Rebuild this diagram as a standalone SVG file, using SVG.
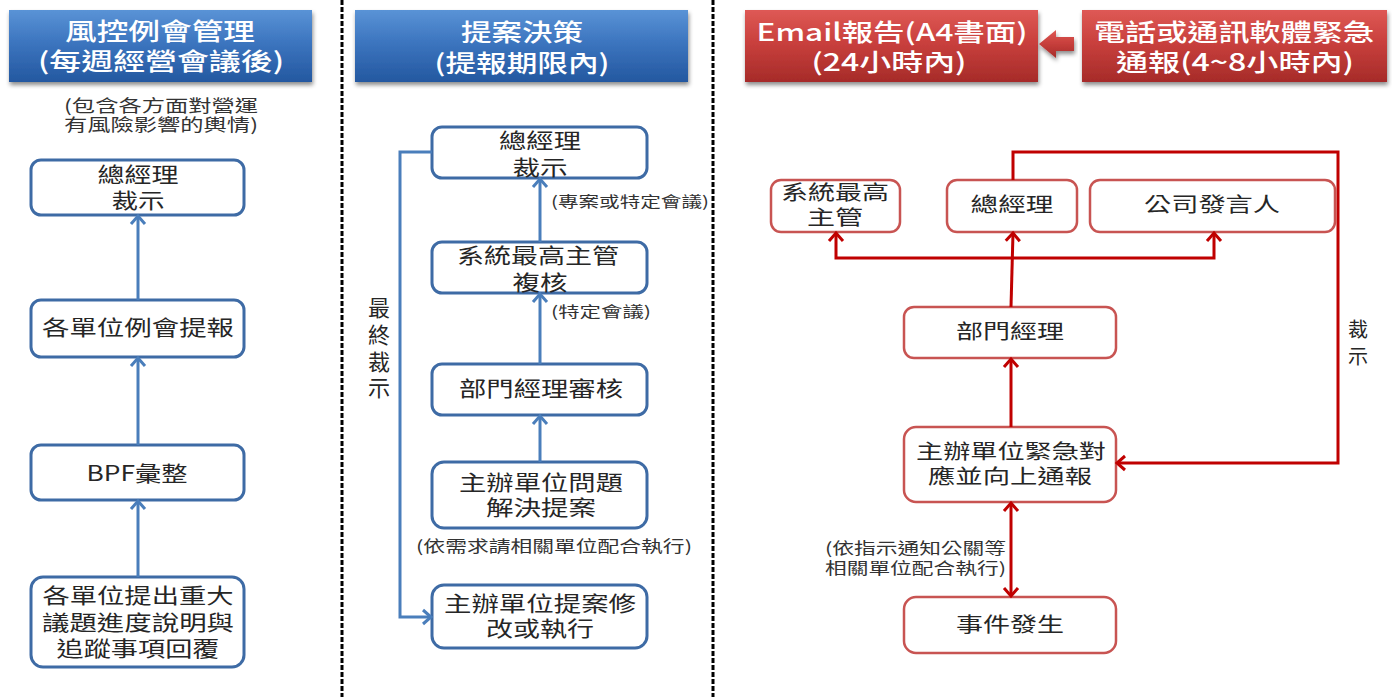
<svg xmlns="http://www.w3.org/2000/svg" width="1392" height="697" viewBox="0 0 1392 697">
<defs>
<linearGradient id="gBlue" x1="0" y1="0" x2="0" y2="1">
<stop offset="0" stop-color="#5A93D6"/>
<stop offset="0.45" stop-color="#3C75BF"/>
<stop offset="1" stop-color="#2458A0"/>
</linearGradient>
<linearGradient id="gRed" x1="0" y1="0" x2="0" y2="1">
<stop offset="0" stop-color="#DE5955"/>
<stop offset="0.45" stop-color="#C9403D"/>
<stop offset="1" stop-color="#A62B29"/>
</linearGradient>
<filter id="shadow" x="-10%" y="-20%" width="120%" height="150%">
<feDropShadow dx="1" dy="3" stdDeviation="2" flood-color="#000" flood-opacity="0.45"/>
</filter>
<marker id="arrB" viewBox="-10 -10 20 20" refX="0" refY="0" markerWidth="20" markerHeight="20" markerUnits="userSpaceOnUse" orient="auto-start-reverse">
<path d="M-8,-7 L0,0 L-8,7" fill="none" stroke="#4A7EBB" stroke-width="3"/>
</marker>
<marker id="arrR" viewBox="-10 -10 20 20" refX="0" refY="0" markerWidth="20" markerHeight="20" markerUnits="userSpaceOnUse" orient="auto-start-reverse">
<path d="M-8,-7 L0,0 L-8,7" fill="none" stroke="#C00000" stroke-width="3"/>
</marker>
</defs>
<style>
text{font-family:"Noto Sans CJK TC","Noto Sans CJK SC",sans-serif;}
.hd{fill:#fff;font-size:24px;font-weight:500;text-anchor:middle;}
.nb{fill:#fff;stroke:#3E6BA5;stroke-width:3;}
.nr{fill:#fff;stroke:#C85452;stroke-width:2.5;}
.t{fill:#262626;font-size:21px;text-anchor:middle;}
.tr{fill:#262626;font-size:20px;text-anchor:middle;}
.s{fill:#333;font-size:15px;}
.s16{fill:#333;font-size:16px;}
.cb{fill:none;stroke:#4A7EBB;stroke-width:3;}
.cr{fill:none;stroke:#C00000;stroke-width:3;}
.sep{stroke:#000;stroke-width:3;stroke-dasharray:5 2;}
</style>
<rect width="1392" height="697" fill="#fff"/>

<g id="separators">
<line class="sep" x1="342" y1="0" x2="342" y2="697"/>
<line class="sep" x1="713" y1="0" x2="713" y2="697"/>
</g>

<!-- Left column -->
<g id="hdr-left">
<rect x="9" y="10" width="303" height="72" fill="url(#gBlue)" filter="url(#shadow)"/>
<text class="hd"><tspan x="160" y="40" textLength="190" lengthAdjust="spacingAndGlyphs">風控例會管理</tspan><tspan x="161" y="70" textLength="246" lengthAdjust="spacingAndGlyphs">(每週經營會議後)</tspan></text>
</g>
<g id="note-left">
<text font-size="17" fill="#333" text-anchor="middle"><tspan x="161" y="112" textLength="194" lengthAdjust="spacingAndGlyphs">(包含各方面對營運</tspan><tspan x="161" y="131" textLength="194" lengthAdjust="spacingAndGlyphs">有風險影響的輿情)</tspan></text>
</g>
<g id="L1">
<rect class="nb" x="31" y="160" width="213" height="55" rx="10"/>
<text class="t"><tspan x="138" y="182" textLength="81" lengthAdjust="spacingAndGlyphs">總經理</tspan><tspan x="138" y="208" textLength="53" lengthAdjust="spacingAndGlyphs">裁示</tspan></text>
</g>
<g id="L2">
<rect class="nb" x="31" y="300" width="213" height="57" rx="10"/>
<text class="t" x="138" y="335" textLength="192" lengthAdjust="spacingAndGlyphs">各單位例會提報</text>
</g>
<g id="L3">
<rect class="nb" x="31" y="445" width="213" height="55" rx="10"/>
<text class="t" x="137" y="481" textLength="101" lengthAdjust="spacingAndGlyphs">BPF彙整</text>
</g>
<g id="L4">
<rect class="nb" x="31" y="577" width="213" height="90" rx="12"/>
<text class="t"><tspan x="138" y="603" textLength="191" lengthAdjust="spacingAndGlyphs">各單位提出重大</tspan><tspan x="138" y="630" textLength="192" lengthAdjust="spacingAndGlyphs">議題進度說明與</tspan><tspan x="138" y="656" textLength="163" lengthAdjust="spacingAndGlyphs">追蹤事項回覆</tspan></text>
</g>

<!-- Middle column -->
<g id="hdr-mid">
<rect x="355" y="10" width="333" height="72" fill="url(#gBlue)" filter="url(#shadow)"/>
<text class="hd"><tspan x="522" y="41" textLength="122" lengthAdjust="spacingAndGlyphs">提案決策</tspan><tspan x="522" y="72" textLength="175" lengthAdjust="spacingAndGlyphs">(提報期限內)</tspan></text>
</g>
<g id="M1">
<rect class="nb" x="432" y="127" width="215" height="51" rx="10"/>
<text class="t"><tspan x="540" y="148" textLength="82" lengthAdjust="spacingAndGlyphs">總經理</tspan><tspan x="540" y="175" textLength="55" lengthAdjust="spacingAndGlyphs">裁示</tspan></text>
</g>
<g id="M2">
<rect class="nb" x="432" y="242" width="215" height="51" rx="10"/>
<text class="t"><tspan x="538" y="263" textLength="162" lengthAdjust="spacingAndGlyphs">系統最高主管</tspan><tspan x="540" y="290" textLength="55" lengthAdjust="spacingAndGlyphs">複核</tspan></text>
</g>
<g id="M3">
<rect class="nb" x="432" y="364" width="215" height="51" rx="10"/>
<text class="t" x="541" y="396" textLength="164" lengthAdjust="spacingAndGlyphs">部門經理審核</text>
</g>
<g id="M4">
<rect class="nb" x="432" y="462" width="215" height="66" rx="12"/>
<text class="t"><tspan x="541" y="490" textLength="164" lengthAdjust="spacingAndGlyphs">主辦單位問題</tspan><tspan x="541" y="515" textLength="110" lengthAdjust="spacingAndGlyphs">解決提案</tspan></text>
</g>
<g id="M5">
<rect class="nb" x="432" y="585" width="215" height="63" rx="12"/>
<text class="t"><tspan x="540" y="611" textLength="192" lengthAdjust="spacingAndGlyphs">主辦單位提案修</tspan><tspan x="540" y="636" textLength="108" lengthAdjust="spacingAndGlyphs">改或執行</tspan></text>
</g>
<g id="mid-labels">
<text class="s" x="551" y="207" textLength="158" lengthAdjust="spacingAndGlyphs">(專案或特定會議)</text>
<text class="s" x="551" y="317" textLength="100" lengthAdjust="spacingAndGlyphs">(特定會議)</text>
<text class="s16" x="554" y="552" text-anchor="middle" textLength="276" lengthAdjust="spacingAndGlyphs">(依需求請相關單位配合執行)</text>
<text font-size="22" fill="#262626" text-anchor="middle"><tspan x="379" y="316">最</tspan><tspan x="379" y="343">終</tspan><tspan x="379" y="370">裁</tspan><tspan x="379" y="396">示</tspan></text>
</g>

<!-- Right column -->
<g id="hdr-right-a">
<rect x="745" y="10" width="293" height="72" fill="url(#gRed)" filter="url(#shadow)"/>
<text class="hd"><tspan x="892" y="41" textLength="271" lengthAdjust="spacingAndGlyphs">Email報告(A4書面)</tspan><tspan x="889" y="71" textLength="155" lengthAdjust="spacingAndGlyphs">(24小時內)</tspan></text>
</g>
<g id="hdr-right-b">
<rect x="1082" y="10" width="305" height="72" fill="url(#gRed)" filter="url(#shadow)"/>
<text class="hd"><tspan x="1234" y="41" textLength="280" lengthAdjust="spacingAndGlyphs">電話或通訊軟體緊急</tspan><tspan x="1235" y="71" textLength="238" lengthAdjust="spacingAndGlyphs">通報(4~8小時內)</tspan></text>
</g>
<g id="hdr-arrow">
<polygon points="1039,44 1056,30 1056,37 1074,37 1074,51 1056,51 1056,58" fill="url(#gRed)" filter="url(#shadow)"/>
</g>
<g id="R1">
<rect class="nr" x="771" y="180" width="129" height="52" rx="10"/>
<text class="tr"><tspan x="835" y="200" textLength="108" lengthAdjust="spacingAndGlyphs">系統最高</tspan><tspan x="835" y="225" textLength="56" lengthAdjust="spacingAndGlyphs">主管</tspan></text>
</g>
<g id="R2">
<rect class="nr" x="947" y="180" width="130" height="52" rx="10"/>
<text class="tr" x="1012" y="212" textLength="83" lengthAdjust="spacingAndGlyphs">總經理</text>
</g>
<g id="R3">
<rect class="nr" x="1090" y="180" width="245" height="52" rx="10"/>
<text class="tr" x="1212" y="212" textLength="136" lengthAdjust="spacingAndGlyphs">公司發言人</text>
</g>
<g id="R4">
<rect class="nr" x="904" y="307" width="212" height="51" rx="10"/>
<text class="tr" x="1010" y="339" textLength="108" lengthAdjust="spacingAndGlyphs">部門經理</text>
</g>
<g id="R5">
<rect class="nr" x="904" y="427" width="212" height="75" rx="12"/>
<text class="tr"><tspan x="1011" y="459" textLength="190" lengthAdjust="spacingAndGlyphs">主辦單位緊急對</tspan><tspan x="1010" y="484" textLength="164" lengthAdjust="spacingAndGlyphs">應並向上通報</tspan></text>
</g>
<g id="R6">
<rect class="nr" x="904" y="597" width="212" height="56" rx="12"/>
<text class="tr" x="1010" y="632" textLength="108" lengthAdjust="spacingAndGlyphs">事件發生</text>
</g>
<g id="right-labels">
<text class="s16" text-anchor="end"><tspan x="1006" y="554" textLength="181" lengthAdjust="spacingAndGlyphs">(依指示通知公關等</tspan><tspan x="1006" y="574" textLength="181" lengthAdjust="spacingAndGlyphs">相關單位配合執行)</tspan></text>
<text font-size="20" fill="#262626" text-anchor="middle"><tspan x="1358" y="337">裁</tspan><tspan x="1358" y="364">示</tspan></text>
</g>

<g id="connectors">
<line class="cb" x1="138" y1="577" x2="138" y2="501" marker-end="url(#arrB)"/>
<line class="cb" x1="138" y1="445" x2="138" y2="358" marker-end="url(#arrB)"/>
<line class="cb" x1="138" y1="300" x2="138" y2="216" marker-end="url(#arrB)"/>
<line class="cb" x1="540" y1="242" x2="540" y2="179" marker-end="url(#arrB)"/>
<line class="cb" x1="540" y1="364" x2="540" y2="294" marker-end="url(#arrB)"/>
<line class="cb" x1="540" y1="462" x2="540" y2="416" marker-end="url(#arrB)"/>
<path class="cb" d="M432,152 H400 V617 H431" marker-end="url(#arrB)"/>
<line class="cr" x1="1011" y1="427" x2="1011" y2="359" marker-end="url(#arrR)"/>
<line class="cr" x1="1011" y1="503" x2="1011" y2="596" marker-start="url(#arrR)" marker-end="url(#arrR)"/>
<path class="cr" d="M1011,307 L1013,233" marker-end="url(#arrR)"/>
<path class="cr" d="M836,233 V258 H1214 V233" marker-start="url(#arrR)" marker-end="url(#arrR)"/>
<path class="cr" d="M1013,180 V152 H1338 V463 H1117" marker-end="url(#arrR)"/>
</g>
</svg>
